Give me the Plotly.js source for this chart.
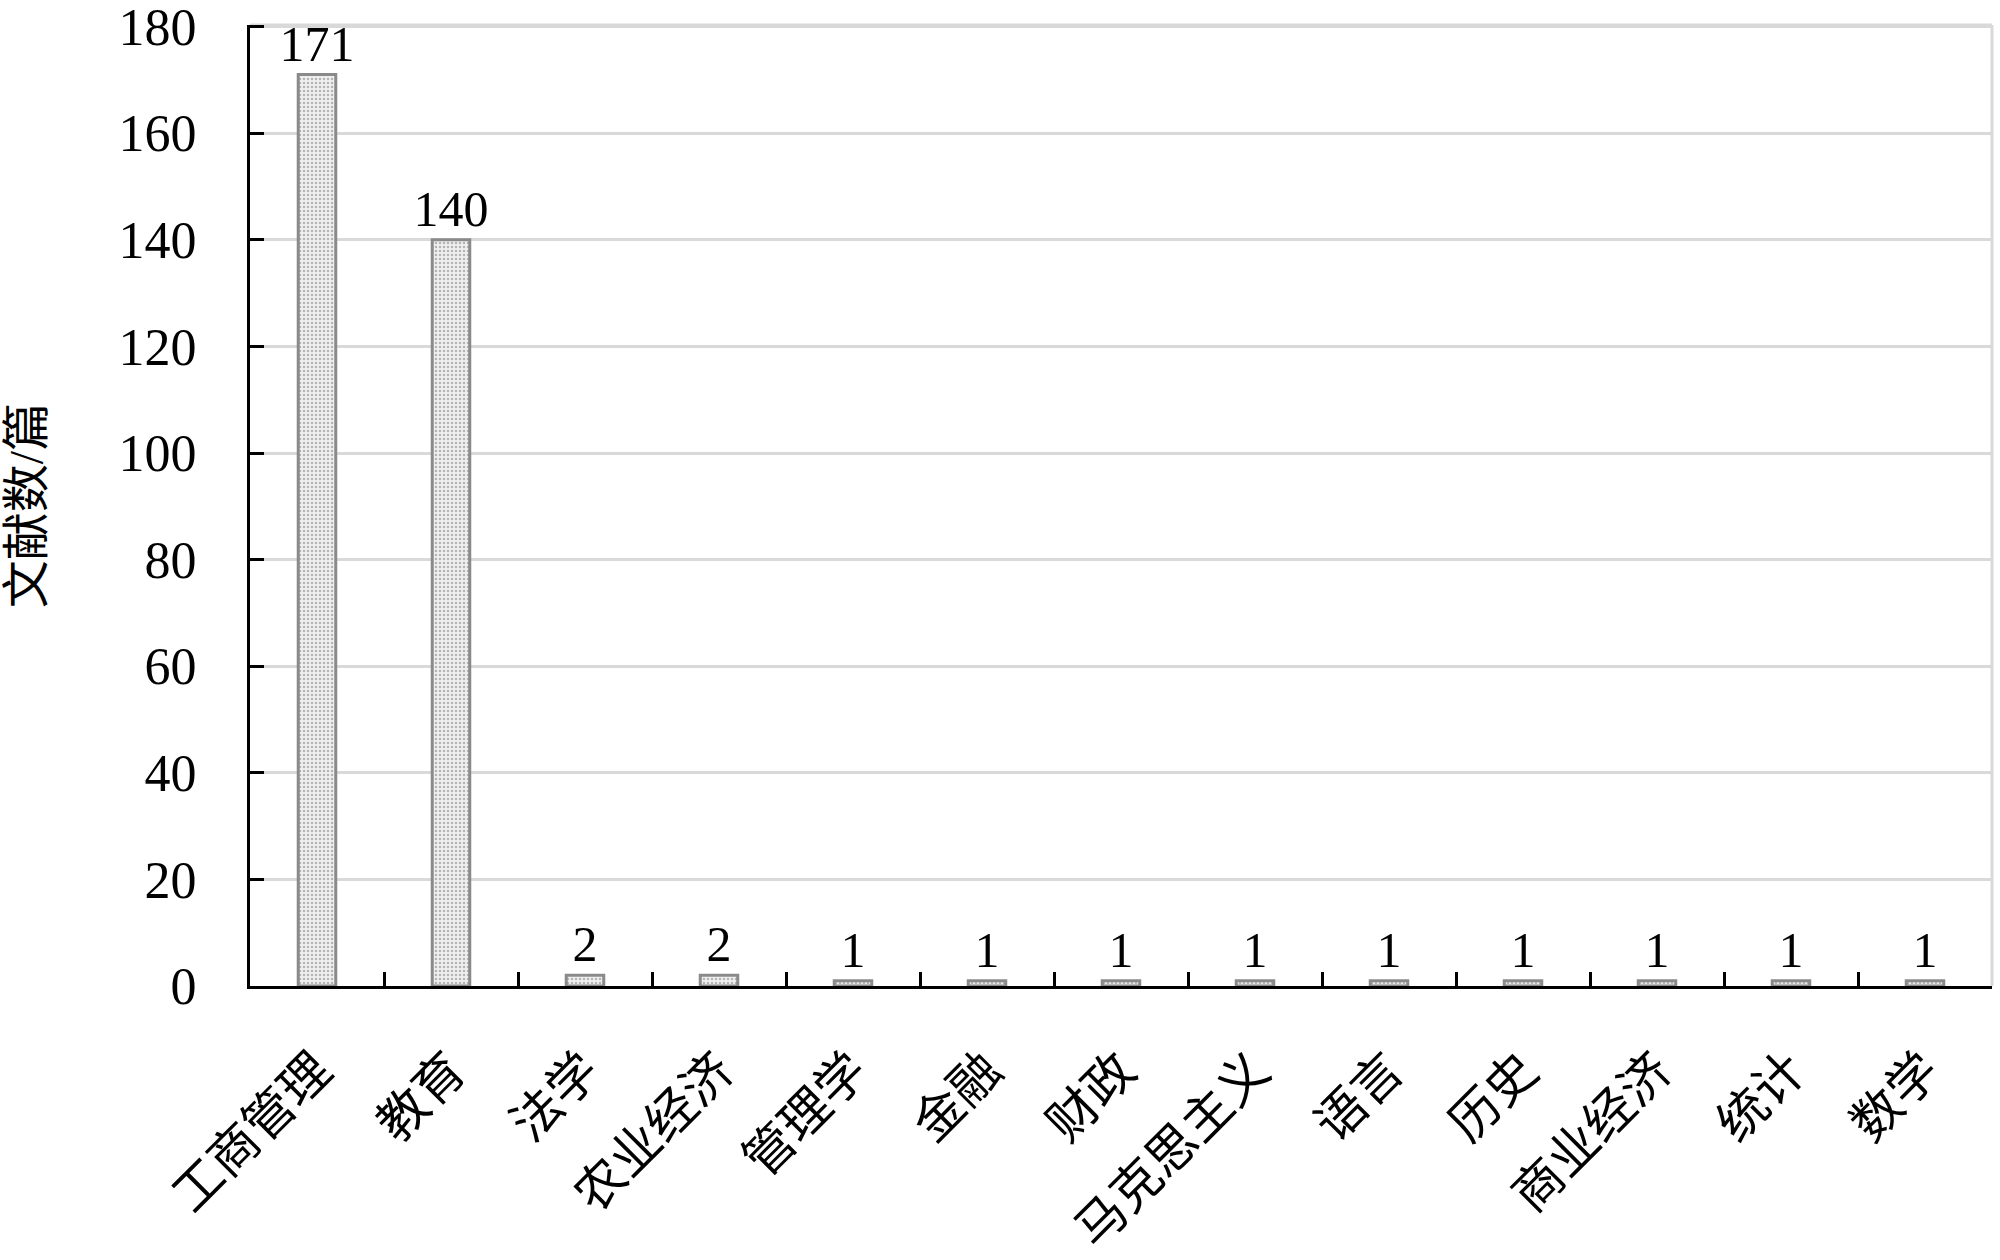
<!DOCTYPE html>
<html>
<head>
<meta charset="utf-8">
<script src="https://cdn.plot.ly/plotly-3.0.1.min.js"></script>
<style>
  html, body { margin: 0; padding: 0; background: #fff; }
  #chart { width: 2000px; height: 1260px; }
</style>
</head>
<body>
<div id="chart"></div>
<script>
const subjects = ['工商管理', '教育', '法学', '农业经济', '管理学', '金融', '财政',
  '马克思主义', '语言', '历史', '商业经济', '统计', '数学'];
const paperCounts = [171, 140, 2, 2, 1, 1, 1, 1, 1, 1, 1, 1, 1];
const yTicks = [0, 20, 40, 60, 80, 100, 120, 140, 160, 180];

const serif = '"Liberation Serif", "Times New Roman", "Noto Sans CJK SC", serif';

Plotly.newPlot('chart', [{
  type: 'bar',
  x: subjects,
  y: paperCounts,
  text: paperCounts.map(String),
  textposition: 'outside',
  constraintext: 'none',
  cliponaxis: false,
  textfont: { family: serif, size: 50, color: '#000' },
  marker: {
    color: '#ececec',
    line: { color: '#8a8a8a', width: 3 },
    pattern: { shape: '.', bgcolor: '#f0f0f0', fgcolor: '#b4b4b4', size: 4, solidity: 0.3 }
  },
  hoverinfo: 'none'
}], {
  width: 2000,
  height: 1260,
  margin: { l: 250, r: 8, t: 25, b: 274 },
  paper_bgcolor: '#fff',
  plot_bgcolor: '#fff',
  bargap: 0.72,
  showlegend: false,
  font: { family: serif, color: '#000' },
  xaxis: {
    type: 'category',
    tickangle: -45,
    tickfont: { family: serif, size: 50, color: '#000' },
    ticklabelstandoff: 32,
    showline: true, linecolor: '#000', linewidth: 3,
    ticks: 'inside', ticklen: 14, tickwidth: 3, tickcolor: '#000',
    tickson: 'boundaries',
    showgrid: false,
    zeroline: false
  },
  yaxis: {
    range: [0, 180.3],
    tickvals: yTicks,
    tickfont: { family: serif, size: 52, color: '#000' },
    ticklabelstandoff: 40,
    ticklabeloverflow: 'allow',
    showline: true, linecolor: '#000', linewidth: 3,
    ticks: 'inside', ticklen: 14, tickwidth: 3, tickcolor: '#000',
    showgrid: true, gridcolor: '#d9d9d9', gridwidth: 3,
    zeroline: false,
    title: { text: '文献数/篇', font: { family: serif, size: 48, color: '#000' }, standoff: 60 }
  },
  shapes: [
    {
      type: 'line', xref: 'paper', yref: 'paper',
      x0: 1, x1: 1, y0: 0, y1: 1,
      line: { color: '#d9d9d9', width: 3 }
    },
    {
      type: 'line', xref: 'paper', yref: 'paper',
      x0: 0, x1: 1, y0: 1, y1: 1,
      line: { color: '#d9d9d9', width: 3 }, layer: 'below'
    }
  ]
}, { displayModeBar: false, staticPlot: true });
</script>
</body>
</html>
